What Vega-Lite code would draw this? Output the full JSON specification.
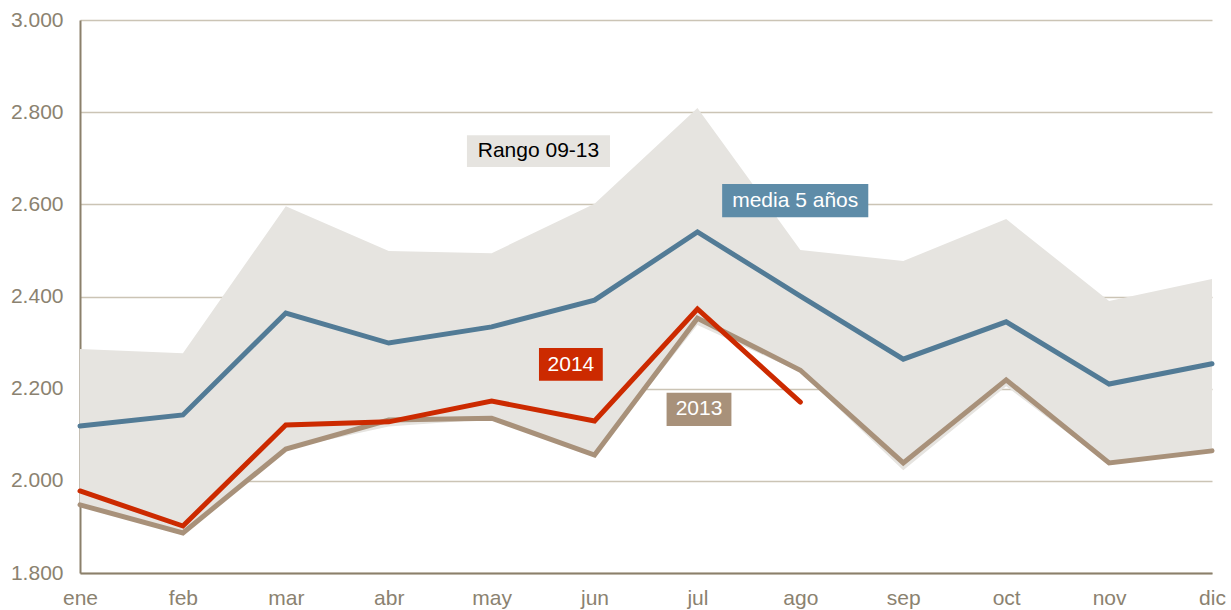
{
  "$schema": "https://vega.github.io/schema/vega-lite/v6.json",
  "width": 1132,
  "height": 553,
  "autosize": {"type": "none"},
  "padding": {"left": 80, "top": 20, "right": 19, "bottom": 37},
  "background": "white",
  "config": {
    "view": {"stroke": null},
    "font": "Liberation Sans",
    "axis": {"labelFont": "Liberation Sans", "labelFontSize": 21, "labelColor": "#8b8270", "title": null}
  },
  "datasets": {
    "months": [
      {"m": 0, "month": "ene", "lo": 1948, "hi": 2286, "media": 2119, "y2013": 1948, "y2014": 1978},
      {"m": 1, "month": "feb", "lo": 1887, "hi": 2277, "media": 2143, "y2013": 1887, "y2014": 1902},
      {"m": 2, "month": "mar", "lo": 2069, "hi": 2596, "media": 2364, "y2013": 2069, "y2014": 2121},
      {"m": 3, "month": "abr", "lo": 2118, "hi": 2499, "media": 2299, "y2013": 2132, "y2014": 2128},
      {"m": 4, "month": "may", "lo": 2134, "hi": 2494, "media": 2334, "y2013": 2136, "y2014": 2173},
      {"m": 5, "month": "jun", "lo": 2056, "hi": 2601, "media": 2392, "y2013": 2056, "y2014": 2130},
      {"m": 6, "month": "jul", "lo": 2338, "hi": 2809, "media": 2540, "y2013": 2353, "y2014": 2373},
      {"m": 7, "month": "ago", "lo": 2236, "hi": 2501, "media": 2401, "y2013": 2240, "y2014": 2171},
      {"m": 8, "month": "sep", "lo": 2023, "hi": 2477, "media": 2264, "y2013": 2039, "y2014": null},
      {"m": 9, "month": "oct", "lo": 2205, "hi": 2568, "media": 2345, "y2013": 2219, "y2014": null},
      {"m": 10, "month": "nov", "lo": 2036, "hi": 2390, "media": 2210, "y2013": 2039, "y2014": null},
      {"m": 11, "month": "dic", "lo": 2062, "hi": 2438, "media": 2254, "y2013": 2065, "y2014": null}
    ],
    "labels": [
      {"label": "Rango 09-13", "x1": 3.76, "x2": 5.15, "y1": 2681, "y2": 2750, "lx": 4.455, "ly": 2715},
      {"label": "media 5 años", "x1": 6.24, "x2": 7.66, "y1": 2572, "y2": 2644, "lx": 6.95, "ly": 2608},
      {"label": "2014", "x1": 4.46, "x2": 5.08, "y1": 2217, "y2": 2288, "lx": 4.77, "ly": 2252},
      {"label": "2013", "x1": 5.70, "x2": 6.33, "y1": 2119, "y2": 2191, "lx": 6.015, "ly": 2155}
    ]
  },
  "layer": [
    {
      "data": {"name": "months"},
      "mark": {"type": "area", "color": "#e6e4e0"},
      "encoding": {
        "x": {
          "field": "m", "type": "quantitative",
          "scale": {"domain": [0, 11], "nice": false, "zero": false},
          "axis": {
            "values": [0,1,2,3,4,5,6,7,8,9,10,11],
            "labelExpr": "['ene','feb','mar','abr','may','jun','jul','ago','sep','oct','nov','dic'][datum.value]",
            "grid": false, "ticks": false, "domainColor": "#8b806b", "domainWidth": 2,
            "labelPadding": 14, "labelFlush": false, "labelOverlap": false
          }
        },
        "y": {
          "field": "lo", "type": "quantitative",
          "scale": {"domain": [1800, 3000], "nice": false, "zero": false},
          "axis": {
            "values": [1800, 2000, 2200, 2400, 2600, 2800, 3000],
            "labelExpr": "replace(format(datum.value, ',.0f'), ',', '.')",
            "grid": true, "gridColor": "#cbc4b5", "gridWidth": 1.5,
            "ticks": false, "domainColor": "#8b806b", "domainWidth": 2,
            "labelPadding": 17
          }
        },
        "y2": {"field": "hi"}
      }
    },
    {
      "data": {"name": "months"},
      "mark": {"type": "line", "color": "#a8917a", "strokeWidth": 5, "strokeCap": "round"},
      "encoding": {
        "x": {"field": "m", "type": "quantitative"},
        "y": {"field": "y2013", "type": "quantitative"}
      }
    },
    {
      "data": {"name": "months"},
      "mark": {"type": "line", "color": "#527b96", "strokeWidth": 5, "strokeCap": "round"},
      "encoding": {
        "x": {"field": "m", "type": "quantitative"},
        "y": {"field": "media", "type": "quantitative"}
      }
    },
    {
      "data": {"name": "months"},
      "mark": {"type": "line", "color": "#cc2a00", "strokeWidth": 5, "strokeCap": "round"},
      "encoding": {
        "x": {"field": "m", "type": "quantitative"},
        "y": {"field": "y2014", "type": "quantitative"}
      }
    },
    {
      "data": {"name": "labels"},
      "mark": {"type": "rect"},
      "encoding": {
        "x": {"field": "x1", "type": "quantitative"},
        "x2": {"field": "x2"},
        "y": {"field": "y1", "type": "quantitative"},
        "y2": {"field": "y2"},
        "color": {
          "field": "label", "type": "nominal", "legend": null,
          "scale": {"domain": ["Rango 09-13", "media 5 años", "2014", "2013"], "range": ["#e6e4e0", "#5e8ca8", "#cc2a00", "#a8917a"]}
        }
      }
    },
    {
      "data": {"name": "labels"},
      "mark": {"type": "text", "fontSize": 21, "align": "center", "baseline": "middle", "font": "Liberation Sans"},
      "encoding": {
        "x": {"field": "lx", "type": "quantitative"},
        "y": {"field": "ly", "type": "quantitative"},
        "text": {"field": "label"},
        "color": {"condition": {"test": "datum.label === 'Rango 09-13'", "value": "#000000"}, "value": "#ffffff"}
      }
    }
  ]
}
